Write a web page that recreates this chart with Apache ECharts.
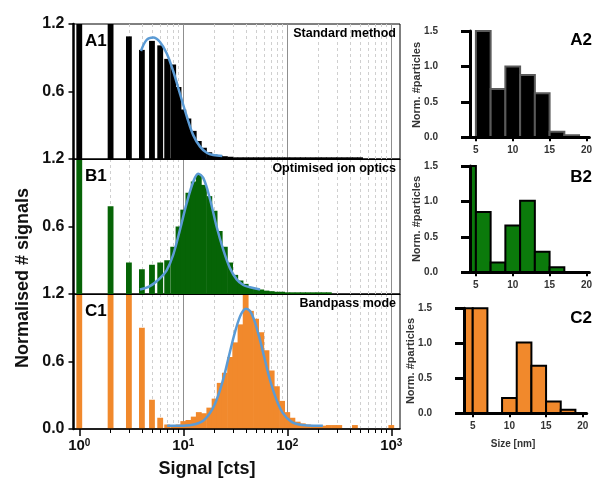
<!DOCTYPE html>
<html><head><meta charset="utf-8">
<script src="https://cdn.jsdelivr.net/npm/echarts@6/dist/echarts.min.js"></script>
<style>html,body{margin:0;padding:0;background:#fff}#c{width:595px;height:481px}</style>
</head><body><div id="c"></div>
<script>
// ---------- data ----------
const binCenters = [1,2,3,4,5,6,7,8,9,
  10,11.2,12.6,14.1,15.8,17.8,20,22.4,25.1,28.2,
  31.6,35.5,39.8,44.7,50.1,56.2,63.1,70.8,79.4,89.1,
  100,112,126,141,158,178,200,224,251,282,
  316,355,398,447,501,562,631,708,794,891,
  1000,1122];
const histA1 = [3,3,1.09,0.97,1.05,1.01,0.89,0.84,0.64,
  0.44,0.36,0.25,0.16,0.10,0.06,0.04,0.03,0.025,0.02,
  0.015,0.015,0.015,0.015,0.015,0.015,0.015,0.015,0.015,0.015,
  0.015,0.015,0.015,0.015,0.015,0.015,0.015,0.015,0.015,0.015,
  0.015,0.015,0.015,0.015,0.015,0,0,0,0,0,
  0,0];
const histB1 = [3,0.78,0.28,0.22,0.26,0.28,0.30,0.42,0.60,
  0.75,0.90,1.00,1.06,0.97,0.87,0.74,0.56,0.42,0.28,
  0.17,0.12,0.09,0.06,0.05,0.04,0.03,0.025,0.02,0.02,
  0.015,0.015,0.015,0.015,0.015,0.015,0.015,0.015,0.015,0,
  0,0,0,0,0,0,0,0,0,0,
  0,0];
const histC1 = [3,3,3,0.90,0.26,0.10,0.04,0.035,0.04,
  0.07,0.08,0.11,0.15,0.14,0.19,0.27,0.41,0.50,0.64,
  0.77,0.93,1.3,1.05,0.98,0.86,0.70,0.52,0.38,0.25,
  0.15,0.10,0.065,0.05,0.04,0.03,0.03,0.03,0.035,0.035,
  0.035,0,0,0.035,0,0,0,0,0,0,
  0.035,0];
const curveA1 = [[3.92,0.96],[4.45,1.06],[5.15,1.08],[5.97,1.04],[6.92,0.94],[8.01,0.78],[9.29,0.58],
  [10.8,0.38],[12.5,0.21],[14.5,0.11],[16.8,0.056],[19.4,0.035],[23.7,0.027]];
const curveB1 = [[3.83,0.04],[4.78,0.07],[5.97,0.14],[6.92,0.21],[8.01,0.35],[9.29,0.57],[10.8,0.81],
  [12.5,1.0],[13.9,1.07],[15.6,1.03],[18.1,0.84],[20.9,0.60],[24.3,0.39],[28.1,0.23],[32.6,0.13],
  [37.7,0.08],[43.8,0.06],[54.7,0.04]];
const curveC1 = [[7,0.03],[10,0.03],[13,0.042],[16,0.083],[20,0.216],[24,0.43],[28,0.68],[32,0.887],
  [36,1.022],[40,1.07],[44,1.046],[48,0.97],[54,0.81],[60,0.64],[68,0.44],[78,0.27],[90,0.146],
  [110,0.063],[140,0.035],[180,0.03],[220,0.03]];

const sizeCenters = [4,6,8,10,12,14,16,18];
const sizeA2 = [0,1.5,0.68,1.0,0.88,0.62,0.08,0.03];
const sizeB2 = [1.5,0.85,0.14,0.66,1.01,0.29,0.07,0];
const sizeC2 = [1.5,1.5,0,0.22,1.01,0.68,0.17,0.05];

const signalMajor = [1,10,100,1000];
const signalMinor = [2,3,4,5,6,7,8,9,20,30,40,50,60,70,80,90,200,300,400,500,600,700,800,900];
const sizeTicks = [5,10,15,20];

const panelLabels = ['A1','B1','C1'];
const panelTitles = ['Standard method','Optimised ion optics','Bandpass mode'];
const sizeLabels = ['A2','B2','C2'];

// ---------- styling ----------
const FONT = '"Liberation Sans", Arial, sans-serif';
const colA = '#000000', colB = '#066406', colC = '#f1892c';
const colB2 = '#0b7a0b';
const curveColor = '#5b9bd5';
const LOG_HALF = 0.028;

function histRender(color) {
  return function (params, api) {
    const c = api.value(0), v = api.value(1);
    if (!(v > 0)) return null;
    const f = Math.pow(10, LOG_HALF);
    const p0 = api.coord([c / f, v]);
    const p1 = api.coord([c * f, 0]);
    const cs = params.coordSys;
    const shape = echarts.graphic.clipRectByRect(
      {x: p0[0], y: p0[1], width: p1[0] - p0[0], height: p1[1] - p0[1]},
      {x: cs.x, y: cs.y, width: cs.width, height: cs.height});
    if (!shape) return null;
    return {type: 'rect', shape: shape, style: {fill: color}};
  };
}
function sizeRender(fill, stroke) {
  return function (params, api) {
    const c = api.value(0), v = api.value(1);
    if (!(v > 0)) return null;
    const p0 = api.coord([c - 1, v]);
    const p1 = api.coord([c + 1, 0]);
    const cs = params.coordSys;
    const shape = echarts.graphic.clipRectByRect(
      {x: p0[0], y: p0[1], width: p1[0] - p0[0], height: p1[1] - p0[1]},
      {x: cs.x, y: cs.y - 1, width: cs.width, height: cs.height + 1});
    if (!shape) return null;
    return {type: 'rect', shape: shape, style: {fill: fill, stroke: stroke, lineWidth: 2}};
  };
}

const LTOP = 24, PH = 135, LLEFT = 73.5, LW = 326.5;
const grids = [0,1,2].map(i => ({left: LLEFT, top: LTOP + i * PH, width: LW, height: PH,
  show: true, borderColor: '#000', borderWidth: 1, backgroundColor: 'transparent'}));
grids.push({left: 470, top: 31, width: 122, height: 106.3});
grids.push({left: 470, top: 166, width: 122, height: 106.3});
grids.push({left: 464, top: 308.3, width: 122.7, height: 105});

function logFmt(v) {
  const l = Math.log10(v), k = Math.round(l);
  if (Math.abs(l - k) > 1e-6) return '';
  return '{b|10}{s|' + k + '}';
}
const xAxes = [];
[0,1,2].forEach(i => {
  xAxes.push({type: 'log', logBase: 10, gridIndex: i, min: 0.88, max: 1213, position: 'bottom', z: 5,
    axisLine: {show: true, onZero: false, lineStyle: {color: '#000', width: i === 2 ? 1.5 : 1.2}},
    axisTick: {show: i === 2, customValues: signalMajor, length: 7, lineStyle: {color: '#000', width: 1.5}},
    axisLabel: {show: i === 2, customValues: signalMajor, formatter: logFmt, margin: 9,
      rich: {b: {fontSize: 15, fontWeight: 'bold', fontFamily: FONT, color: '#111'},
             s: {fontSize: 10, fontWeight: 'bold', fontFamily: FONT, color: '#111', verticalAlign: 'top'}}},
    splitLine: {show: false}, minorTick: {show: false}});
});
xAxes.push({type: 'log', logBase: 10, gridIndex: 2, min: 0.88, max: 1213, position: 'bottom', z: 5,
  axisLine: {show: false}, axisLabel: {show: false}, splitLine: {show: false},
  axisTick: {show: true, customValues: signalMinor, length: 4, lineStyle: {color: '#000', width: 1}}});
const sizeMins = [4.2, 4.2, 3.81], sizeMaxs = [20.4, 20.4, 20.54];
[0,1,2].forEach(i => {
  xAxes.push({type: 'value', gridIndex: 3 + i, min: sizeMins[i], max: sizeMaxs[i], z: 5,
    axisLine: {show: true, onZero: false, lineStyle: {color: '#000', width: 3}},
    axisTick: {show: true, customValues: sizeTicks, length: 4, lineStyle: {color: '#000', width: 2}},
    axisLabel: {customValues: sizeTicks, fontSize: 10, fontWeight: 'bold', fontFamily: FONT, color: '#333', margin: 8},
    splitLine: {show: false}});
});
const yAxes = [];
[0,1,2].forEach(i => {
  yAxes.push({type: 'value', gridIndex: i, min: 0, max: 1.2, interval: 0.6, z: 5,
    axisLine: {show: true, onZero: false, lineStyle: {color: '#000', width: 2.5}},
    axisTick: {show: true, length: 5, lineStyle: {color: '#000', width: 1.5}},
    axisLabel: {fontSize: 16, fontWeight: 'bold', fontFamily: FONT, color: '#111', margin: 9,
      formatter: v => (i < 2 && v === 0) ? '' : v.toFixed(1)},
    splitLine: {show: false}});
});
[0,1,2].forEach(i => {
  yAxes.push({type: 'value', gridIndex: 3 + i, min: 0, max: 1.5, interval: 0.5, z: 5,
    axisLine: {show: true, onZero: false, lineStyle: {color: '#000', width: 3}},
    axisTick: {show: true, length: 9, lineStyle: {color: '#000', width: 3}},
    axisLabel: {fontSize: 10, fontWeight: 'bold', fontFamily: FONT, color: '#333', margin: 32,
      formatter: v => v.toFixed(1)},
    splitLine: {show: false}});
});

const histData = [histA1, histB1, histC1];
const histColors = [colA, colB, colC];
const curves = [curveA1, curveB1, curveC1];
const series = [];
[0,1,2].forEach(i => {
  series.push({type: 'line', xAxisIndex: i, yAxisIndex: i, data: [], z: 1, silent: true,
    markLine: {silent: true, z: 1, symbol: ['none','none'], animation: false, label: {show: false},
      data: signalMinor.map(v => ({xAxis: v, lineStyle: {type: [3,3], color: '#cfcfcf', width: 1}}))
        .concat([10,100,1000].map(v => ({xAxis: v, lineStyle: {type: 'solid', color: '#8f8f8f', width: 1}})))}});
  series.push({type: 'custom', xAxisIndex: i, yAxisIndex: i, z: 3,
    renderItem: histRender(histColors[i]), encode: {x: 0, y: 1},
    data: binCenters.map((c, k) => [c, histData[i][k]])});
  series.push({type: 'line', xAxisIndex: i, yAxisIndex: i, z: 4, smooth: 0.35, symbol: 'none',
    lineStyle: {color: curveColor, width: 2.5}, data: curves[i]});
});
const sizeData = [sizeA2, sizeB2, sizeC2];
const sizeFill = [colA, colB2, colC], sizeStroke = ['#5a5a5a', '#000', '#000'];
[0,1,2].forEach(i => {
  series.push({type: 'custom', xAxisIndex: 4 + i, yAxisIndex: 3 + i, z: 2,
    renderItem: sizeRender(sizeFill[i], sizeStroke[i]), encode: {x: 0, y: 1},
    data: sizeCenters.map((c, k) => [c, sizeData[i][k]])});
});

const graphics = [];
[0,1,2].forEach(i => {
  graphics.push({type: 'text', x: 85, y: LTOP + i * PH + 17, z: 100,
    style: {text: panelLabels[i], font: 'bold 17px ' + FONT, fill: '#000', verticalAlign: 'middle', align: 'left'}});
  graphics.push({type: 'text', x: 396, y: LTOP + i * PH + 10, z: 100,
    style: {text: panelTitles[i], font: 'bold 12.5px ' + FONT, fill: '#000', verticalAlign: 'middle', align: 'right'}});
});
[[581, 40], [581, 177], [581, 318]].forEach((p, i) => {
  graphics.push({type: 'text', x: p[0], y: p[1], z: 100,
    style: {text: sizeLabels[i], font: 'bold 17px ' + FONT, fill: '#000', verticalAlign: 'middle', align: 'center'}});
});
[[417, 85], [417, 219], [411, 361]].forEach(p => {
  graphics.push({type: 'text', x: p[0], y: p[1], rotation: Math.PI / 2, z: 100,
    style: {text: 'Norm. #particles', font: 'bold 11px ' + FONT, fill: '#333', verticalAlign: 'middle', align: 'center'}});
});
graphics.push({type: 'text', x: 513, y: 444, z: 100,
  style: {text: 'Size [nm]', font: 'bold 10px ' + FONT, fill: '#333', verticalAlign: 'middle', align: 'center'}});
graphics.push({type: 'text', x: 23, y: 278, rotation: Math.PI / 2, z: 100,
  style: {text: 'Normalised # signals', font: 'bold 18px ' + FONT, fill: '#111', verticalAlign: 'middle', align: 'center'}});
graphics.push({type: 'text', x: 207, y: 469, z: 100,
  style: {text: 'Signal [cts]', font: 'bold 18px ' + FONT, fill: '#111', verticalAlign: 'middle', align: 'center'}});

const chart = echarts.init(document.getElementById('c'), null, {renderer: 'canvas'});
chart.setOption({
  animation: false,
  backgroundColor: '#fff',
  grid: grids, xAxis: xAxes, yAxis: yAxes, series: series, graphic: graphics
});
</script></body></html>
